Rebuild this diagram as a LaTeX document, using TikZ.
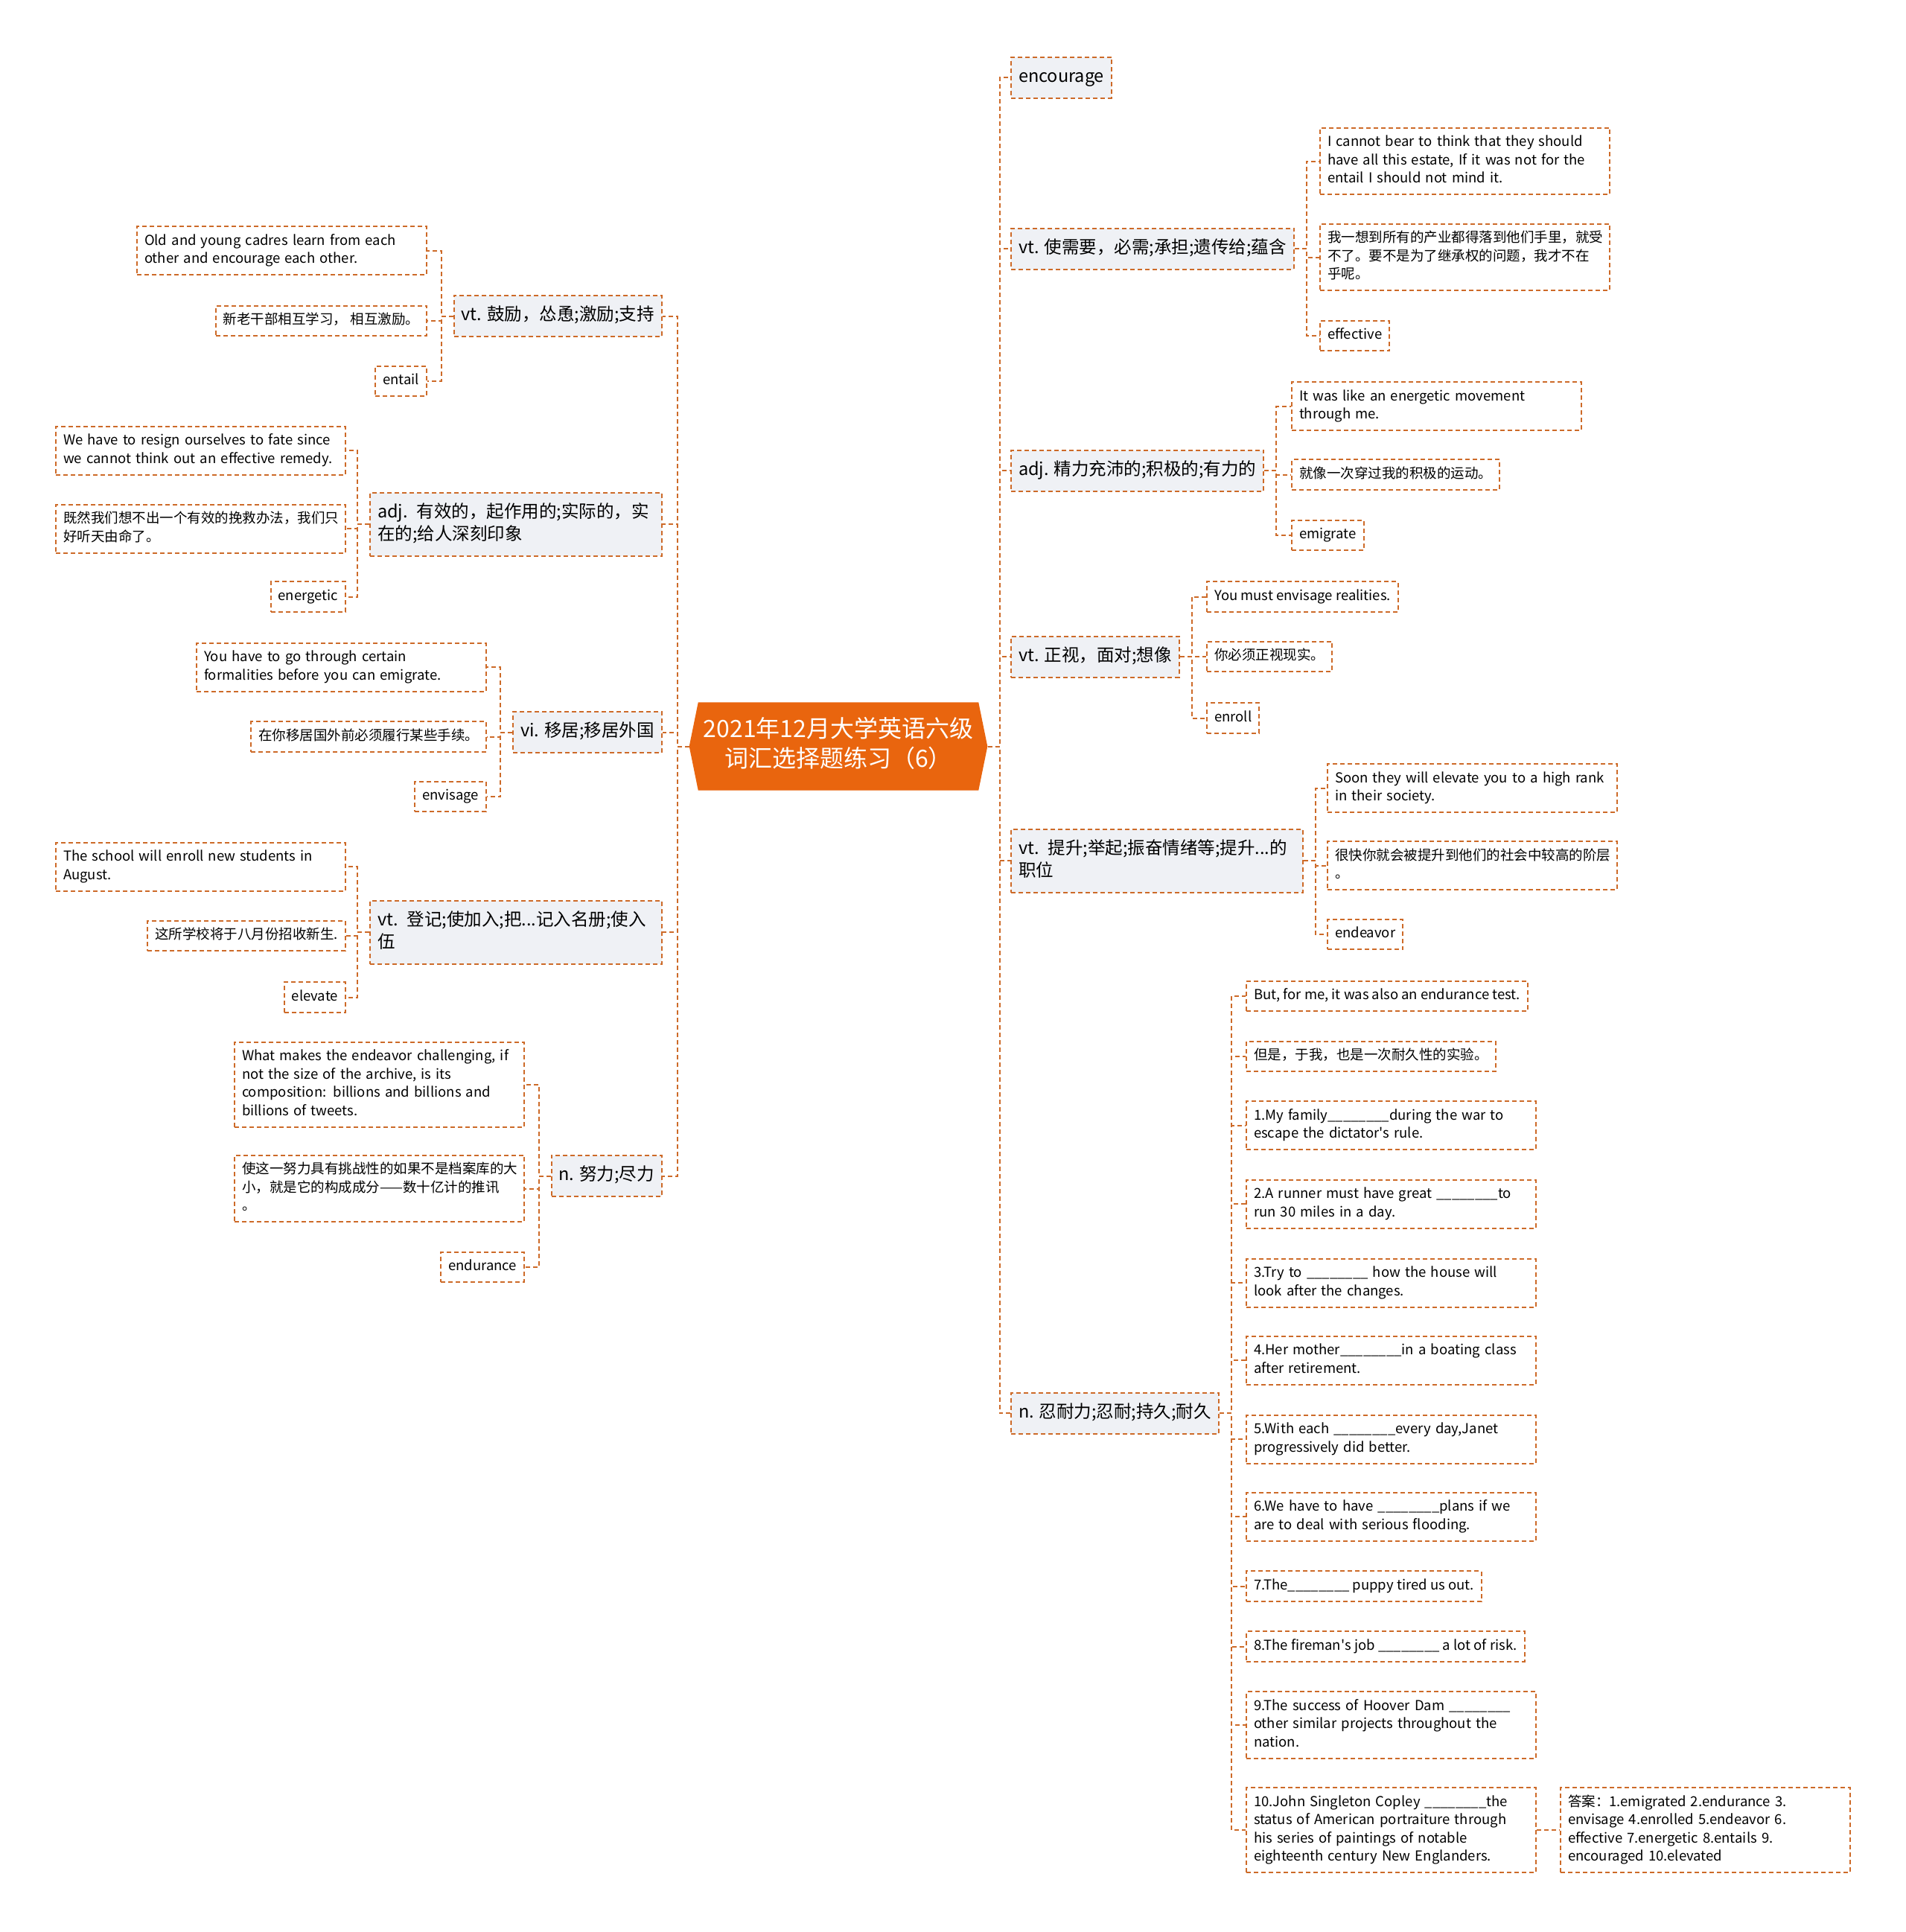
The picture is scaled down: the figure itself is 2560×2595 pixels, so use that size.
\documentclass[tikz,border=0pt]{standalone}
\usepackage{fontspec}
\setmainfont{Noto Sans CJK SC}
\usetikzlibrary{shapes.symbols}

\definecolor{huborange}{RGB}{233,101,14}
\definecolor{linkbrown}{RGB}{205,106,40}
\definecolor{topicgray}{RGB}{239,241,245}
\newcommand{\hubsize}{\fontsize{32}{40}\selectfont}
\newcommand{\topicsize}{\fontsize{23.5}{30}\selectfont}
\newcommand{\leafsize}{\fontsize{18.5}{24.5}\selectfont}
\newcommand{\qblank}{\_\_\_\_\_\_\_\_}

\begin{document}
\begin{tikzpicture}[x=1pt, y=-1pt,
    main node/.style={signal, signal to=east and west, signal pointer angle=157,
      fill=huborange, text=white, font=\hubsize, align=center, inner xsep=7, inner ysep=19.5},
    topic node/.style={draw=linkbrown, fill=topicgray, line width=2, dash pattern=on 6pt off 4pt,
      font=\topicsize, inner xsep=10, inner ysep=12.5},
    leaf node/.style={draw=linkbrown, fill=white, line width=2, dash pattern=on 6pt off 4pt,
      font=\leafsize, inner xsep=10, inner ysep=8},
    wide/.style={text width=#1, align=left},
    link/.style={draw=linkbrown, line width=2, dash pattern=on 6pt off 4pt},
    rbranch/.style={to path={-- ++(16,0) |- (\tikztotarget)}},
    lbranch/.style={to path={-- ++(-16,0) |- (\tikztotarget)}}]
  \tikzstyle{every node}=[execute at begin node=\strut, execute at end node=\strut]

  \fill[white] (0,0) rectangle (2560,2595);

  \node[main node] (hub) at (1126,1002.5) {2021年12月大学英语六级\\词汇选择题练习（6）};

  % right side
  \node[topic node, anchor=west] (r0) at (1357,104) {encourage};
  \node[topic node, anchor=west] (r1) at (1357,334) {vt. 使需要，必需;承担;遗传给;蕴含};
  \node[topic node, anchor=west] (r2) at (1357,632) {adj. 精力充沛的;积极的;有力的};
  \node[topic node, anchor=west] (r3) at (1357,882) {vt. 正视，面对;想像};
  \node[topic node, anchor=west, wide=372] (r4) at (1357,1156) {vt. 提升;举起;振奋情绪等;提升...的\\职位};
  \node[topic node, anchor=west] (r5) at (1357,1898) {n. 忍耐力;忍耐;持久;耐久};

  \node[leaf node, anchor=west, wide=369] (r1a) at (1772,216.5) {I cannot bear to think that they should\\have all this estate, If it was not for the\\entail I should not mind it.};
  \node[leaf node, anchor=west, wide=369] (r1b) at (1772,345.5) {我一想到所有的产业都得落到他们手里，就受\\不了。要不是为了继承权的问题，我才不在\\乎呢。};
  \node[leaf node, anchor=west] (r1c) at (1772,451) {effective};

  \node[leaf node, anchor=west, wide=369] (r2a) at (1734,545.5) {It was like an energetic movement\\through me.};
  \node[leaf node, anchor=west] (r2b) at (1734,637.5) {就像一次穿过我的积极的运动。};
  \node[leaf node, anchor=west] (r2c) at (1734,719) {emigrate};

  \node[leaf node, anchor=west] (r3a) at (1620,801.5) {You must envisage realities.};
  \node[leaf node, anchor=west] (r3b) at (1620,882) {你必须正视现实。};
  \node[leaf node, anchor=west] (r3c) at (1620,964.5) {enroll};

  \node[leaf node, anchor=west, wide=369] (r4a) at (1782,1058.5) {Soon they will elevate you to a high rank\\in their society.};
  \node[leaf node, anchor=west, wide=369] (r4b) at (1782,1162.5) {很快你就会被提升到他们的社会中较高的阶层\\。};
  \node[leaf node, anchor=west] (r4c) at (1782,1255) {endeavor};

  \node[leaf node, anchor=west] (r5a) at (1673,1338) {But, for me, it was also an endurance test.};
  \node[leaf node, anchor=west] (r5b) at (1673,1419) {但是，于我，也是一次耐久性的实验。};
  \node[leaf node, anchor=west, wide=369] (q1) at (1673,1511.5) {1.My family\qblank during the war to\\escape the dictator\textquotesingle s rule.};
  \node[leaf node, anchor=west, wide=369] (q2) at (1673,1617) {2.A runner must have great \qblank to\\run 30 miles in a day.};
  \node[leaf node, anchor=west, wide=369] (q3) at (1673,1723) {3.Try to \qblank\ how the house will\\look after the changes.};
  \node[leaf node, anchor=west, wide=369] (q4) at (1673,1827) {4.Her mother\qblank in a boating class\\after retirement.};
  \node[leaf node, anchor=west, wide=369] (q5) at (1673,1933) {5.With each \qblank every day,Janet\\progressively did better.};
  \node[leaf node, anchor=west, wide=369] (q6) at (1673,2037) {6.We have to have \qblank plans if we\\are to deal with serious flooding.};
  \node[leaf node, anchor=west] (q7) at (1673,2130.5) {7.The\qblank\ puppy tired us out.};
  \node[leaf node, anchor=west] (q8) at (1673,2211.5) {8.The fireman\textquotesingle s job \qblank\ a lot of risk.};
  \node[leaf node, anchor=west, wide=369] (q9) at (1673,2317) {9.The success of Hoover Dam \qblank\\other similar projects throughout the\\nation.};
  \node[leaf node, anchor=west, wide=369] (q10) at (1673,2458) {10.John Singleton Copley \qblank the\\status of American portraiture through\\his series of paintings of notable\\eighteenth century New Englanders.};
  \node[leaf node, anchor=west, wide=369] (ans) at (2095,2458) {答案：1.emigrated 2.endurance 3.\\envisage 4.enrolled 5.endeavor 6.\\effective 7.energetic 8.entails 9.\\encouraged 10.elevated};

  % left side
  \node[topic node, anchor=east] (l1) at (890,424.5) {vt. 鼓励，怂恿;激励;支持};
  \node[topic node, anchor=east, wide=372] (l2) at (890,704) {adj. 有效的，起作用的;实际的，实\\在的;给人深刻印象};
  \node[topic node, anchor=east] (l3) at (890,983.5) {vi. 移居;移居外国};
  \node[topic node, anchor=east, wide=372] (l4) at (890,1252) {vt. 登记;使加入;把...记入名册;使入\\伍};
  \node[topic node, anchor=east] (l5) at (890,1579.5) {n. 努力;尽力};

  \node[leaf node, anchor=east, wide=369] (l1a) at (574,336.5) {Old and young cadres learn from each\\other and encourage each other.};
  \node[leaf node, anchor=east] (l1b) at (574,431) {新老干部相互学习， 相互激励。};
  \node[leaf node, anchor=east] (l1c) at (574,512) {entail};

  \node[leaf node, anchor=east, wide=369] (l2a) at (465,605) {We have to resign ourselves to fate since\\we cannot think out an effective remedy.};
  \node[leaf node, anchor=east, wide=369] (l2b) at (465,710) {既然我们想不出一个有效的挽救办法，我们只\\好听天由命了。};
  \node[leaf node, anchor=east] (l2c) at (465,801.5) {energetic};

  \node[leaf node, anchor=east, wide=369] (l3a) at (654,896) {You have to go through certain\\formalities before you can emigrate.};
  \node[leaf node, anchor=east] (l3b) at (654,989.5) {在你移居国外前必须履行某些手续。};
  \node[leaf node, anchor=east] (l3c) at (654,1070) {envisage};

  \node[leaf node, anchor=east, wide=369] (l4a) at (465,1164) {The school will enroll new students in\\August.};
  \node[leaf node, anchor=east] (l4b) at (465,1257) {这所学校将于八月份招收新生.};
  \node[leaf node, anchor=east] (l4c) at (465,1339.5) {elevate};

  \node[leaf node, anchor=east, wide=369] (l5a) at (705,1456.5) {What makes the endeavor challenging, if\\not the size of the archive, is its\\composition: billions and billions and\\billions of tweets.};
  \node[leaf node, anchor=east, wide=369] (l5b) at (705,1596.5) {使这一努力具有挑战性的如果不是档案库的大\\小，就是它的构成成分——数十亿计的推讯\\。};
  \node[leaf node, anchor=east] (l5c) at (705,1702) {endurance};

  % connectors
  \path[link] (hub.east) edge[rbranch] (r0.west) edge[rbranch] (r1.west)
    edge[rbranch] (r2.west) edge[rbranch] (r3.west) edge[rbranch] (r4.west) edge[rbranch] (r5.west);
  \path[link] (hub.west) edge[lbranch] (l1.east) edge[lbranch] (l2.east)
    edge[lbranch] (l3.east) edge[lbranch] (l4.east) edge[lbranch] (l5.east);

  \path[link] (r1.east) edge[rbranch] (r1a.west) edge[rbranch] (r1b.west) edge[rbranch] (r1c.west);
  \path[link] (r2.east) edge[rbranch] (r2a.west) edge[rbranch] (r2b.west) edge[rbranch] (r2c.west);
  \path[link] (r3.east) edge[rbranch] (r3a.west) edge[rbranch] (r3b.west) edge[rbranch] (r3c.west);
  \path[link] (r4.east) edge[rbranch] (r4a.west) edge[rbranch] (r4b.west) edge[rbranch] (r4c.west);
  \path[link] (r5.east) edge[rbranch] (r5a.west) edge[rbranch] (r5b.west)
    edge[rbranch] (q1.west) edge[rbranch] (q2.west) edge[rbranch] (q3.west) edge[rbranch] (q4.west)
    edge[rbranch] (q5.west) edge[rbranch] (q6.west) edge[rbranch] (q7.west) edge[rbranch] (q8.west)
    edge[rbranch] (q9.west) edge[rbranch] (q10.west);
  \path[link] (q10.east) edge (ans.west);

  \path[link] (l1.west) edge[lbranch] (l1a.east) edge[lbranch] (l1b.east) edge[lbranch] (l1c.east);
  \path[link] (l2.west) edge[lbranch] (l2a.east) edge[lbranch] (l2b.east) edge[lbranch] (l2c.east);
  \path[link] (l3.west) edge[lbranch] (l3a.east) edge[lbranch] (l3b.east) edge[lbranch] (l3c.east);
  \path[link] (l4.west) edge[lbranch] (l4a.east) edge[lbranch] (l4b.east) edge[lbranch] (l4c.east);
  \path[link] (l5.west) edge[lbranch] (l5a.east) edge[lbranch] (l5b.east) edge[lbranch] (l5c.east);
\end{tikzpicture}
\end{document}
